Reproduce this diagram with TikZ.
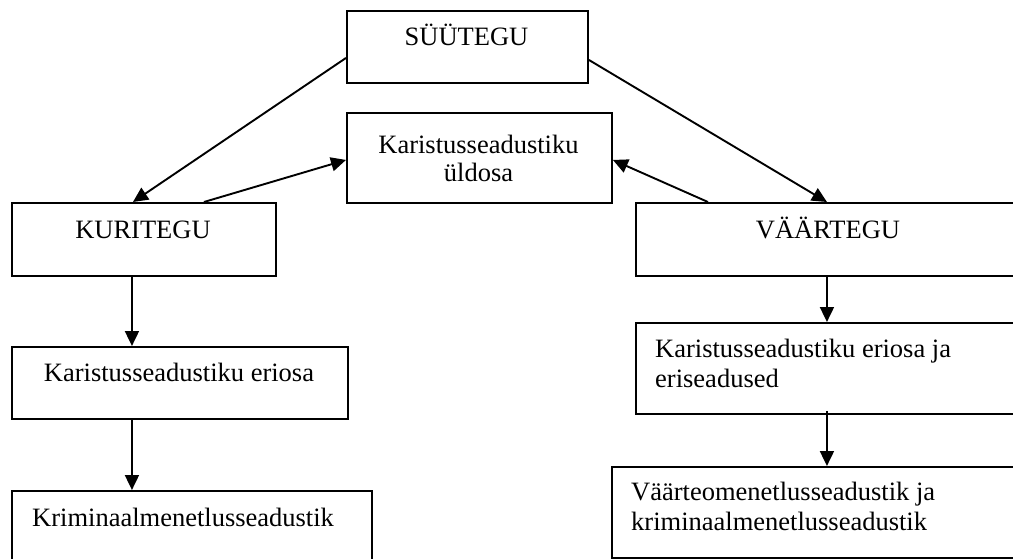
\documentclass[tikz,border=0pt]{standalone}
\usepackage{fontspec}
\setmainfont{Liberation Serif}
\usetikzlibrary{arrows.meta}
\begin{document}
\begin{tikzpicture}[x=1pt,y=-1pt,
  box/.style={draw=black,line width=1.9pt,rectangle,inner sep=0pt,anchor=north west},
  lbl/.style={inner sep=0pt,font=\fontsize{26.5}{30}\selectfont},
  arr/.style={line width=1.9pt,-{Triangle[length=15pt,width=14pt]}}]
\clip (0,0) rectangle (1013,559);
\fill[white] (0,0) rectangle (1013,559);
% boxes
\node[box,minimum width=241pt,minimum height=72pt] (s) at (346,10) {};
\node[box,minimum width=265pt,minimum height=90pt] (u) at (346,112) {};
\node[box,minimum width=264pt,minimum height=73pt] (k) at (11,202) {};
\node[box,minimum width=387pt,minimum height=73pt] (v) at (635,202) {};
\node[box,minimum width=336pt,minimum height=72pt] (ke) at (11,346) {};
\node[box,minimum width=360pt,minimum height=110pt] (kr) at (11,490) {};
\node[box,minimum width=387pt,minimum height=91pt] (ve) at (635,322) {};
\node[box,minimum width=411pt,minimum height=91pt] (vm) at (611,466) {};
% labels
\node[lbl,anchor=base] (ts) at (466.5,46) {SÜÜTEGU};
\node[lbl,anchor=base] (tu1) at (478.5,154) {Karistusseadustiku};
\node[lbl,anchor=base] (tu2) at (478.5,182) {üldosa};
\node[lbl,anchor=base] (tk) at (143,238) {KURITEGU};
\node[lbl,anchor=base] (tv) at (828,238) {VÄÄRTEGU};
\node[lbl,anchor=base] (tke) at (179,381) {Karistusseadustiku eriosa};
\node[lbl,anchor=base west] (tkr) at (32,526) {Kriminaalmenetlusseadustik};
\node[lbl,anchor=base west] (tve1) at (655,357) {Karistusseadustiku eriosa ja};
\node[lbl,anchor=base west] (tve2) at (655,387) {eriseadused};
\node[lbl,anchor=base west] (tvm1) at (631,500) {Väärteomenetlusseadustik ja};
\node[lbl,anchor=base west] (tvm2) at (631,530) {kriminaalmenetlusseadustik};
% connectors
\draw[arr] ([yshift=-11pt]s.west) -- ([xshift=-11pt]k.north);
\draw[arr] ([yshift=-13pt]s.east) -- ([xshift=-2.5pt]v.north);
\draw[arr] ([xshift=60pt]k.north) -- ([yshift=-2pt]u.west);
\draw[arr] ([xshift=-121.5pt]v.north) -- ([yshift=-2pt]u.east);
\draw[arr] ([xshift=-12pt]k.south) -- ([xshift=-12pt]k.south |- ke.north);
\draw[arr] ([xshift=-48pt]ke.south) -- ([xshift=-48pt]ke.south |- kr.north);
\draw[arr] ([xshift=-2.5pt]v.south) -- ([xshift=-2.5pt]v.south |- ve.north);
\draw[arr] ([xshift=-2.5pt,yshift=4pt]ve.south) -- ([xshift=-2.5pt]ve.south |- vm.north);
\end{tikzpicture}
\end{document}
